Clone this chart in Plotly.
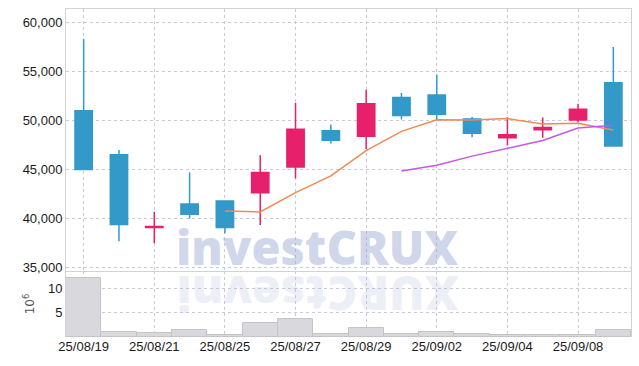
import plotly.graph_objects as go
from plotly.subplots import make_subplots

dates = ["25/08/19", "25/08/20", "25/08/21", "25/08/22", "25/08/25", "25/08/26",
         "25/08/27", "25/08/28", "25/08/29", "25/09/01", "25/09/02", "25/09/03",
         "25/09/04", "25/09/05", "25/09/08", "25/09/09"]
opens = [51000, 46500, 39100, 41500, 41800, 42650, 45250, 48950, 48400, 52350, 52600, 50150, 48250, 49050, 50050, 53850]
highs = [58300, 47000, 40700, 44700, 41800, 46450, 51800, 49600, 53150, 52800, 54700, 50350, 50300, 50300, 51700, 57500]
lows = [45000, 37700, 37500, 40000, 38500, 39350, 44100, 47650, 47100, 50100, 50100, 48300, 47450, 48250, 49800, 47400]
closes = [45000, 39400, 39200, 40450, 39100, 44700, 49100, 48000, 51700, 50500, 50650, 48700, 48550, 49300, 51150, 47400]
volumes = [12.0, 1.0, 0.8, 1.45, 0.4, 2.85, 3.6, 0.6, 1.8, 0.65, 1.05, 0.55, 0.45, 0.45, 0.45, 1.4]

ma5_dates = dates[4:]
ma5 = [40780, 40680, 42650, 44360, 46940, 48900, 50070, 50050, 50200, 49650, 49720, 49030]
ma10_dates = dates[9:]
ma10 = [44860, 45440, 46370, 47200, 47970, 49240, 49510]

tick_dates = ["25/08/19", "25/08/21", "25/08/25", "25/08/27", "25/08/29", "25/09/02", "25/09/04", "25/09/08"]
price_ticks = [35000, 40000, 45000, 50000, 55000, 60000]
vol_ticks = [5, 10]

UP = "#e6206b"
DOWN = "#3399c9"
GRID = "#c6cadc"
AXL = "#d2d2d6"
FONT = "Liberation Sans, Arial, sans-serif"
TICKFONT = dict(family=FONT, size=13, color="#1a1a1a")

fig = make_subplots(rows=2, cols=1, shared_xaxes=True, vertical_spacing=0)

fig.add_trace(go.Candlestick(
    x=dates, open=opens, high=highs, low=lows, close=closes,
    increasing=dict(line=dict(color=UP, width=1.5), fillcolor=UP),
    decreasing=dict(line=dict(color=DOWN, width=1.5), fillcolor=DOWN),
    whiskerwidth=0, hoverinfo="skip"), row=1, col=1)
fig.add_trace(go.Scatter(x=ma5_dates, y=ma5, mode="lines",
                         line=dict(color="#ee8a52", width=1.5), hoverinfo="skip"), row=1, col=1)
fig.add_trace(go.Scatter(x=ma10_dates, y=ma10, mode="lines",
                         line=dict(color="#c657e2", width=1.5), hoverinfo="skip"), row=1, col=1)
fig.add_trace(go.Bar(x=dates, y=volumes, marker=dict(color="#d9d9dd", line=dict(color="#c4c4c8", width=1)),
                     hoverinfo="skip"), row=2, col=1)

vol_frac = 66 / 328
fig.update_layout(
    width=639, height=366,
    margin=dict(l=66, r=8, t=9, b=29),
    paper_bgcolor="white", plot_bgcolor="white",
    showlegend=False, bargap=0,
    font=dict(family=FONT, size=13, color="#1a1a1a"),
    xaxis=dict(type="category", categoryorder="array", categoryarray=dates,
               rangeslider=dict(visible=False), showticklabels=False,
               tickvals=tick_dates, showgrid=True, gridcolor=GRID, griddash="dot",
               showline=True, mirror=True, linecolor=AXL, linewidth=1, ticks="",
               range=[-0.5, 15.5]),
    xaxis2=dict(type="category", categoryorder="array", categoryarray=dates,
                tickvals=tick_dates, ticktext=tick_dates, showgrid=True, gridcolor=GRID,
                griddash="dot", showline=False, ticks="", range=[-0.5, 15.5],
                tickfont=TICKFONT),
    yaxis=dict(domain=[vol_frac, 1], range=[34660, 61370], tickvals=price_ticks,
               tickformat=",", showgrid=True, gridcolor=GRID, griddash="dot",
               showline=True, mirror=True, linecolor=AXL, linewidth=1, ticks="",
               zeroline=False, tickfont=TICKFONT),
    yaxis2=dict(domain=[0, vol_frac], range=[0, 13.5], tickvals=vol_ticks,
                showgrid=True, gridcolor=GRID, griddash="dot",
                showline=True, mirror=True, linecolor=AXL, linewidth=1, ticks="",
                zeroline=False, tickfont=TICKFONT,
                title=dict(text="10<sup>6</sup>", font=dict(family="DejaVu Sans", size=12, color="#555555"),
                           standoff=10)),
)

fig.add_annotation(text="investCRUX", xref="paper", yref="paper", x=0.445, y=(337 - 281) / 328,
                   xanchor="center", yanchor="bottom", showarrow=False,
                   font=dict(family="Open Sans", size=47, weight=800, color="rgba(150,164,208,0.45)"))
fig.add_annotation(text="XURCtsevni", xref="paper", yref="paper", x=0.445, y=(337 - 260) / 328,
                   xanchor="center", yanchor="top", showarrow=False, textangle=180,
                   font=dict(family="Open Sans", size=47, weight=800, color="rgba(170,182,218,0.22)"))

fig.write_html("out.html", config={"displayModeBar": False},
               post_script="document.body.style.margin='0';")
